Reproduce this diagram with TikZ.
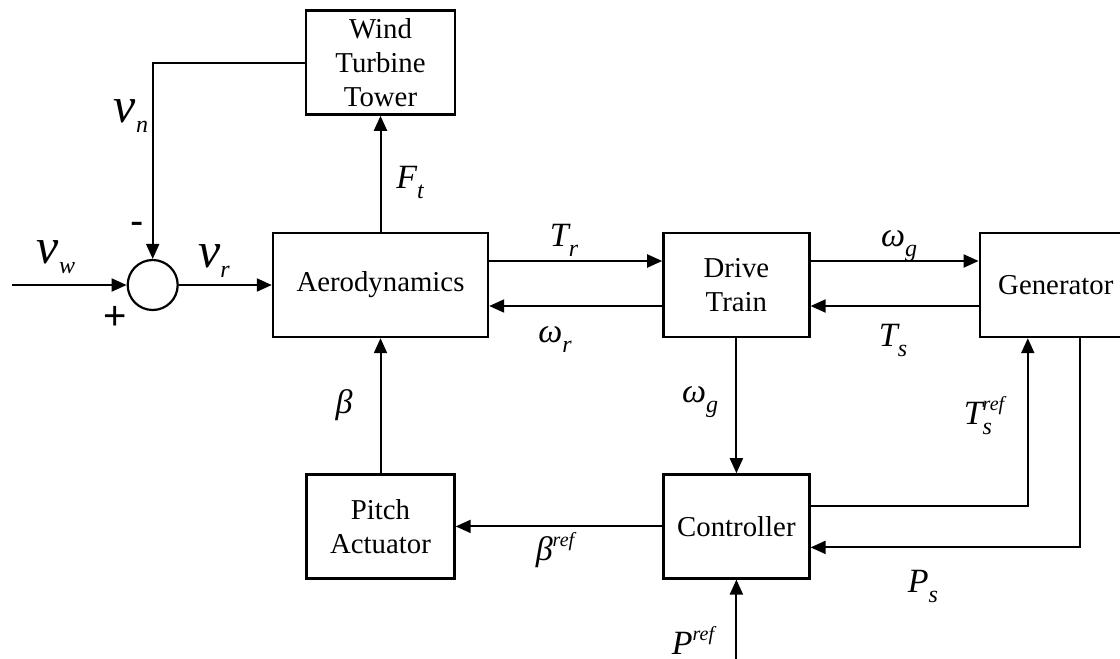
\documentclass[tikz,border=0pt]{standalone}
\usepackage{fontspec}
\setmainfont{Liberation Serif}
\setsansfont{Liberation Sans}
\usetikzlibrary{arrows.meta,positioning,calc}

\newcommand{\lsub}[1]{\raisebox{-5pt}{\fontsize{12}{12}\selectfont #1}}
\newcommand{\lsup}[1]{\raisebox{7pt}{\fontsize{10}{10}\selectfont #1}}

\begin{document}
\begin{tikzpicture}[
  x=0.5pt, y=-0.5pt,
  block/.style={rectangle, draw, line width=1.2pt, minimum height=52pt,
    font=\fontsize{14.4}{17}\selectfont, align=center, inner sep=2pt},
  sumnode/.style={circle, draw, line width=1.1pt, minimum size=25pt, inner sep=0pt},
  sig/.style={font=\fontsize{17}{17}\selectfont\itshape, inner sep=0pt},
  vsig/.style={font=\fontsize{25}{25}\selectfont\itshape, inner sep=0pt},
  sgn/.style={font=\fontsize{20}{20}\selectfont\sffamily, inner sep=0pt},
  arr/.style={-{Triangle[length=7.5pt,width=6.5pt]}, line width=1pt},
]
  \useasboundingbox (0,0) rectangle (1120,659);

  % blocks
  \node[block, minimum width=107.5pt] (aero) at (380.5,285) {Aerodynamics};
  \node[block, minimum width=74.5pt, above=58pt of aero] (tower) {Wind\\Turbine\\Tower};
  \node[block, minimum width=73pt, right=86.5pt of aero] (drive) {Drive\\Train};
  \node[block, minimum width=76pt, right=84pt of drive] (gen) {Generator};
  \node[block, minimum width=74pt, below=67.5pt of aero] (pitch) {Pitch\\Actuator};
  \node[block, minimum width=73pt, below=67.5pt of drive] (ctrl) {Controller};
  \node[sumnode, left=46.5pt of aero] (sum) {};

  \coordinate (vin) at (12,285);
  \coordinate (pin) at (ctrl.south |- 0,659);

  % signals
  \draw[arr] (vin) -- (sum.west);
  \draw[arr] (tower.west) -| (sum.north);
  \draw[arr] (sum.east) -- (aero.west);
  \draw[arr] (aero.north) -- (tower.south);
  \draw[arr] ($(aero.east)+(0,-24)$) -- ($(drive.west)+(0,-24)$);
  \draw[arr] ($(drive.west)+(0,21)$) -- ($(aero.east)+(0,21)$);
  \draw[arr] ($(drive.east)+(0,-24)$) -- ($(gen.west)+(0,-24)$);
  \draw[arr] ($(gen.west)+(0,21)$) -- ($(drive.east)+(0,21)$);
  \draw[arr] (drive.south) -- (ctrl.north);
  \draw[arr] (ctrl.west) -- (pitch.east);
  \draw[arr] (pitch.north) -- (aero.south);
  \draw[arr] ($(ctrl.east)+(0,-20)$) -| ($(gen.south)+(-28,0)$);
  \draw[arr] ($(gen.south)+(24,0)$) |- ($(ctrl.east)+(0,21)$);
  \draw[arr] (pin) -- (ctrl.south);

  % labels
  \node[vsig] (lvw) at (56,257) {v\lsub{w}};
  \node[vsig] (lvn) at (131,116) {v\lsub{n}};
  \node[vsig] (lvr) at (214,261) {v\lsub{r}};
  \node[sgn] (lplus) at (115,318) {+};
  \node[sgn] (lminus) at (137,228) {-};
  \node[sig] (lft) at (410,182) {F\lsub{t}};
  \node[sig] (ltr) at (564,240) {T\lsub{r}};
  \node[sig] (lwr) at (555,340) {ω\lsub{r}};
  \node[sig] (lwg) at (899,246) {ω\lsub{g}};
  \node[sig] (lts) at (893,340) {T\lsub{s}};
  \node[sig] (ltsref) at (984,416) {T\makebox[0pt][l]{\lsub{s}}\lsup{ref}};
  \node[sig] (lbeta) at (344,405) {β};
  \node[sig] (lwg2) at (700,402) {ω\lsub{g}};
  \node[sig] (lbref) at (555,550) {β\lsup{ref}};
  \node[sig] (lps) at (923,586) {P\lsub{s}};
  \node[sig] (lpref) at (693,640) {P\lsup{ref}};
\end{tikzpicture}
\end{document}
